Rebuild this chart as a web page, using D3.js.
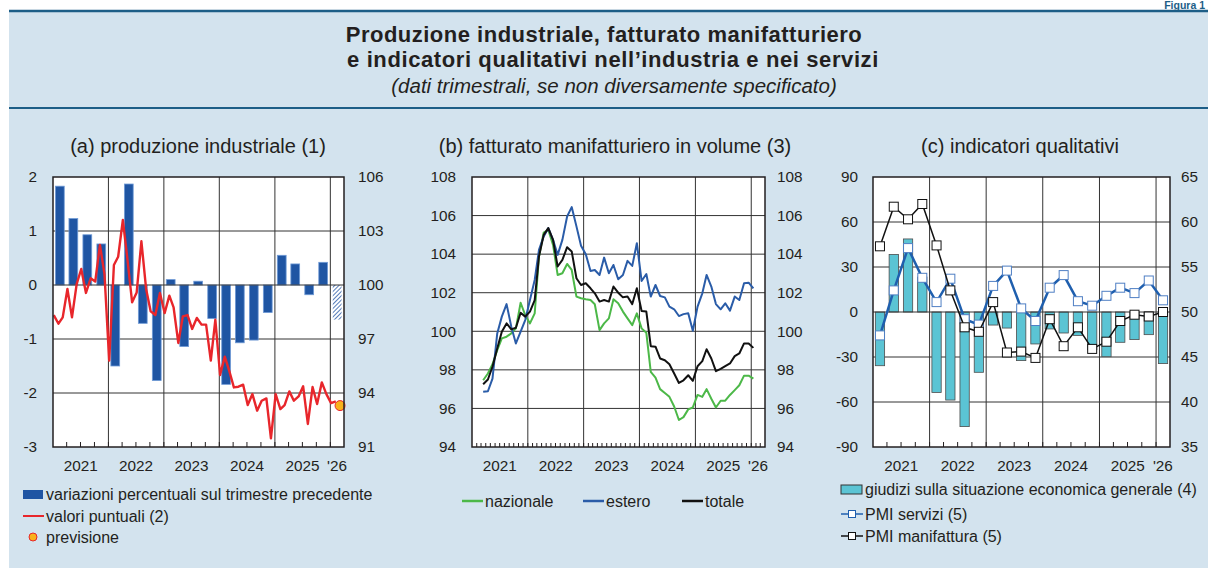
<!DOCTYPE html>
<html><head><meta charset="utf-8">
<script src="https://cdn.jsdelivr.net/npm/d3@7"></script>
<style>
body{margin:0;background:#fff}
svg{display:block}
text{font-family:"Liberation Sans",Arial,Helvetica,sans-serif;fill:#231f20}
</style>
</head><body>
<svg id="chart" width="1208" height="568"></svg>
<script>
// ---------------- DATA ----------------
const yearLabels = ["2021", "2022", "2023", "2024", "2025", "'26"];

// (a) produzione industriale: quarterly % change (last one = forecast, hatched)
const prodQoq = [1.83, 1.23, 0.93, 0.76, -1.50, 1.87, -0.71, -1.77, 0.10, -1.14, 0.07, -0.62,
  -1.84, -1.07, -1.02, -0.51, 0.55, 0.39, -0.18, 0.42, -0.64];
// monthly index level (right axis), from Jan 2021
const prodLevel = [98.33, 97.85, 98.20, 99.78, 98.20, 100.06, 100.89, 99.56, 100.37, 100.19, 102.22, 100.61,
  95.80, 101.11, 101.57, 103.61, 101.44, 99.04, 99.59, 102.43, 99.78, 98.54, 98.33, 99.56,
  98.44, 99.41, 98.76, 96.78, 98.26, 98.33, 97.56, 98.17, 97.80, 97.80, 95.80, 98.07,
  95.00, 96.02, 95.24, 94.31, 94.35, 94.46, 93.33, 93.94, 93.02, 93.57, 93.70, 91.48,
  93.94, 93.11, 93.33, 94.09, 93.57, 93.81, 94.37, 92.28, 94.33, 93.39, 94.59, 93.94,
  93.44, 93.54];
const prodForecast = 93.30;
const prodLeftTicks = [-3, -2, -1, 0, 1, 2];
const prodRightTicks = [91, 94, 97, 100, 103, 106];

// (b) fatturato manifatturiero in volume: monthly, from Mar 2021
const fattNazionale = [97.46, 97.81, 98.29, 99.02, 99.63, 99.72, 99.89, 100.15, 101.48, 100.84, 100.41, 100.93,
  103.88, 105.12, 105.26, 104.48, 102.92, 103.01, 103.49, 103.18, 101.80, 101.71, 101.66, 101.62,
  101.40, 100.06, 100.41, 100.67, 101.66, 101.45, 101.02, 100.67, 100.32, 100.93, 100.15, 99.92,
  97.90, 97.60, 97.00, 96.80, 96.60, 96.10, 95.40, 95.55, 95.95, 96.05, 96.70, 96.60,
  97.00, 96.50, 96.05, 96.40, 96.40, 96.70, 96.95, 97.20, 97.70, 97.70, 97.55];
const fattEstero = [96.86, 96.89, 97.55, 99.89, 100.76, 101.41, 100.24, 99.37, 99.98, 100.58, 101.62, 102.66,
  104.22, 104.92, 105.35, 104.74, 103.96, 104.74, 105.95, 106.44, 105.44, 104.43, 104.00, 103.13,
  103.18, 102.92, 103.82, 103.01, 103.44, 102.70, 102.92, 103.65, 103.39, 104.57, 102.61, 102.97,
  101.80, 102.40, 101.83, 101.76, 101.28, 101.14, 100.79, 100.89, 100.93, 100.03, 101.28, 101.97,
  102.92, 102.32, 101.41, 101.14, 101.45, 101.07, 101.80, 101.62, 102.49, 102.52, 102.23];
const fattTotale = [97.25, 97.50, 98.16, 99.11, 99.98, 100.41, 100.10, 100.18, 100.96, 100.76, 101.02, 101.62,
  103.88, 105.00, 105.35, 104.74, 103.36, 103.70, 104.36, 104.14, 102.75, 102.40, 102.49, 102.23,
  101.97, 101.54, 101.62, 101.54, 102.32, 102.00, 101.76, 101.80, 101.41, 102.23, 101.05, 101.02,
  99.23, 99.20, 98.59, 98.50, 98.29, 97.81, 97.32, 97.46, 97.72, 97.43, 98.19, 98.45,
  99.07, 98.59, 97.93, 98.05, 98.19, 98.33, 98.71, 98.85, 99.37, 99.37, 99.14];
const fattTicks = [94, 96, 98, 100, 102, 104, 106, 108];

// (c) indicatori qualitativi: quarterly
const giudizi = [-35.8, 38.4, 48.7, 23.3, -53.6, -58.7, -76.4, -40.2, -8.7, -10.7, -32.4, -21.3,
  -11.3, -14.0, -15.6, -25.1, -29.8, -20.2, -18.4, -15.1, -34.4];
const pmiServizi = [47.4, 52.4, 57.1, 53.8, 51.1, 53.7, 49.2, 48.6, 52.9, 54.6, 50.4, 49.0,
  52.7, 54.1, 51.2, 50.7, 51.8, 52.7, 52.1, 53.5, 51.3];
const pmiManifattura = [57.3, 61.7, 60.3, 62.0, 57.4, 52.4, 48.3, 47.8, 51.1, 45.5, 45.6, 44.9,
  49.2, 46.2, 48.3, 45.9, 46.7, 49.0, 49.7, 49.5, 50.0];
const qualLeftTicks = [-90, -60, -30, 0, 30, 60, 90];
const qualRightTicks = [35, 40, 45, 50, 55, 60, 65];

// ---------------- DRAW ----------------
const svg = d3.select("#chart");
const BG = "#d3e3ee", RULE = "#1d5e87";
const C_BAR_A = "#1f55a3", C_RED = "#e8262b", C_GREEN = "#4cb848", C_BLUE = "#2a5ca8", C_TEAL = "#5bc4d4";

svg.append("rect").attr("width", 1208).attr("height", 568).attr("fill", "#fff");
svg.append("rect").attr("x", 9).attr("y", 11).attr("width", 1199).attr("height", 557).attr("fill", BG);
svg.append("line").attr("x1", 9).attr("x2", 1208).attr("y1", 11).attr("y2", 11).attr("stroke", RULE).attr("stroke-width", 2.5);
svg.append("line").attr("x1", 9).attr("x2", 1208).attr("y1", 108).attr("y2", 108).attr("stroke", RULE).attr("stroke-width", 2);
svg.append("text").attr("x", 1205).attr("y", 9).attr("text-anchor", "end").attr("font-weight", "bold")
  .attr("font-size", 10.5).style("fill", RULE).text("Figura 1");

svg.append("text").attr("x", 604).attr("y", 42).attr("text-anchor", "middle").attr("font-weight", "bold")
  .attr("font-size", 22).attr("letter-spacing", 0.5).text("Produzione industriale, fatturato manifatturiero");
svg.append("text").attr("x", 613).attr("y", 67).attr("text-anchor", "middle").attr("font-weight", "bold")
  .attr("font-size", 22).attr("letter-spacing", 0.6).text("e indicatori qualitativi nell\u2019industria e nei servizi");
svg.append("text").attr("x", 614).attr("y", 93).attr("text-anchor", "middle").attr("font-style", "italic")
  .attr("font-size", 20.5).text("(dati trimestrali, se non diversamente specificato)");

const defs = svg.append("defs");
const pat = defs.append("pattern").attr("id", "hatch").attr("patternUnits", "userSpaceOnUse")
  .attr("width", 3).attr("height", 3).attr("patternTransform", "rotate(45)");
pat.append("rect").attr("width", 3).attr("height", 3).attr("fill", "#fff");
pat.append("line").attr("x1", 0).attr("x2", 0).attr("y1", 0).attr("y2", 3).attr("stroke", "#2a5ca8").attr("stroke-width", 1.6);

const D0 = new Date(2021, 0, 1), D1 = new Date(2026, 3, 1);
const Y0 = 177, Y1 = 447;
const TICK_FS = 15.3;

function panel(x0, x1, title, titleX) {
  const x = d3.scaleTime().domain([D0, D1]).range([x0, x1]);
  const g = svg.append("g");
  g.append("rect").attr("x", x0).attr("y", Y0).attr("width", x1 - x0).attr("height", Y1 - Y0).attr("fill", "#fff");
  svg.append("text").attr("x", titleX).attr("y", 153).attr("text-anchor", "middle").attr("font-size", 20).text(title);
  return {x, g};
}
function vgrid(p) {
  const years = d3.range(2022, 2027).map(y => new Date(y, 0, 1));
  p.g.selectAll(null).data(years).enter().append("line")
    .attr("x1", d => p.x(d)).attr("x2", d => p.x(d)).attr("y1", Y0).attr("y2", Y1)
    .attr("stroke", "#333").attr("stroke-width", 1);
}
function hgrid(p, y, vals) {
  p.g.selectAll(null).data(vals).enter().append("line")
    .attr("x1", p.x.range()[0]).attr("x2", p.x.range()[1]).attr("y1", d => y(d)).attr("y2", d => y(d))
    .attr("stroke", "#333").attr("stroke-width", 1);
}
function frame(p, interval, tlen) {
  const [x0, x1] = p.x.range();
  const ticks = interval.range(D0, D1).filter(d => +d > +D0);
  p.g.selectAll(null).data(ticks).enter().append("line")
    .attr("x1", d => p.x(d)).attr("x2", d => p.x(d)).attr("y1", Y1).attr("y2", Y1 - tlen)
    .attr("stroke", "#231f20").attr("stroke-width", 1);
  p.g.append("rect").attr("x", x0).attr("y", Y0).attr("width", x1 - x0).attr("height", Y1 - Y0)
    .attr("fill", "none").attr("stroke", "#231f20").attr("stroke-width", 1.5);
  const yl = yearLabels.map((t, i) => ({t, d: i < 5 ? new Date(2021 + i, 6, 2) : new Date(2026, 1, 14)}));
  svg.selectAll(null).data(yl).enter().append("text").attr("x", d => p.x(d.d)).attr("y", 471)
    .attr("text-anchor", "middle").attr("font-size", TICK_FS).text(d => d.t);
}
function yLabels(y, vals, xpos, anchor) {
  svg.selectAll(null).data(vals).enter().append("text")
    .attr("x", xpos).attr("y", d => y(d)).attr("dy", "0.35em").attr("text-anchor", anchor)
    .attr("font-size", TICK_FS).text(d => d);
}
const qCenter = i => new Date(2021, 3 * i + 1, 15);

// ---- Panel A ----
{
  const p = panel(53, 344, "(a) produzione industriale (1)", 198);
  const yL = d3.scaleLinear().domain([-3, 2]).range([Y1, Y0]);
  const yR = d3.scaleLinear().domain([91, 106]).range([Y1, Y0]);
  hgrid(p, yL, [-2, -1, 1]);
  vgrid(p);
  const bw = 8.8;
  p.g.selectAll(null).data(prodQoq).enter().append("rect")
    .attr("x", (d, i) => p.x(qCenter(i)) - bw / 2).attr("width", bw)
    .attr("y", d => yL(Math.max(0, d))).attr("height", d => Math.abs(yL(d) - yL(0)))
    .attr("fill", (d, i) => i === prodQoq.length - 1 ? "url(#hatch)" : C_BAR_A)
    .attr("stroke", (d, i) => i === prodQoq.length - 1 ? "none" : "#6f9ad6").attr("stroke-width", 0.8);
  hgrid(p, yL, [0]);
  const line = d3.line().x((d, i) => p.x(new Date(2021, i, 6))).y(d => yR(d));
  p.g.append("path").datum(prodLevel).attr("d", line).attr("fill", "none")
    .attr("stroke", C_RED).attr("stroke-width", 2.4).attr("stroke-linejoin", "round");
  p.g.append("circle").attr("cx", p.x(new Date(2021, prodLevel.length, 6))).attr("cy", yR(prodForecast))
    .attr("r", 5).attr("fill", "#f9b21b").attr("stroke", "#e8262b").attr("stroke-width", 1);
  frame(p, d3.timeMonth.every(3), 5);
  yLabels(yL, prodLeftTicks, 37, "end");
  yLabels(yR, prodRightTicks, 358, "start");
  // legend
  svg.append("rect").attr("x", 23).attr("y", 490).attr("width", 20).attr("height", 9).attr("fill", C_BAR_A);
  svg.append("text").attr("x", 46).attr("y", 500).attr("font-size", 16).text("variazioni percentuali sul trimestre precedente");
  svg.append("line").attr("x1", 23).attr("x2", 44).attr("y1", 516).attr("y2", 516).attr("stroke", C_RED).attr("stroke-width", 2);
  svg.append("text").attr("x", 46).attr("y", 521.5).attr("font-size", 16).text("valori puntuali (2)");
  svg.append("circle").attr("cx", 33).attr("cy", 537).attr("r", 4).attr("fill", "#f9b21b").attr("stroke", "#e8262b").attr("stroke-width", 1);
  svg.append("text").attr("x", 46).attr("y", 542.5).attr("font-size", 16).text("previsione");
}

// ---- Panel B ----
{
  const p = panel(472, 765, "(b) fatturato manifatturiero in volume (3)", 615);
  const y = d3.scaleLinear().domain([94, 108]).range([Y1, Y0]);
  hgrid(p, y, [96, 98, 100, 102, 104, 106]);
  vgrid(p);
  const line = d3.line().x((d, i) => p.x(new Date(2021, i + 2, 15))).y(d => y(d));
  [[fattNazionale, C_GREEN], [fattEstero, C_BLUE], [fattTotale, "#111"]].forEach(([data, c]) => {
    p.g.append("path").datum(data).attr("d", line).attr("fill", "none")
      .attr("stroke", c).attr("stroke-width", 2).attr("stroke-linejoin", "round");
  });
  frame(p, d3.timeMonth.every(1), 4);
  yLabels(y, fattTicks, 456, "end");
  yLabels(y, fattTicks, 777, "start");
  const leg = [["nazionale", C_GREEN, 462], ["estero", C_BLUE, 583], ["totale", "#111", 682]];
  leg.forEach(([t, c, lx]) => {
    svg.append("line").attr("x1", lx).attr("x2", lx + 21).attr("y1", 501).attr("y2", 501).attr("stroke", c).attr("stroke-width", 2.5);
    svg.append("text").attr("x", lx + 23).attr("y", 506.5).attr("font-size", 16).text(t);
  });
}

// ---- Panel C ----
{
  const p = panel(873, 1170, "(c) indicatori qualitativi", 1020);
  const yL = d3.scaleLinear().domain([-90, 90]).range([Y1, Y0]);
  const yR = d3.scaleLinear().domain([35, 65]).range([Y1, Y0]);
  hgrid(p, yL, [-60, -30, 30, 60]);
  vgrid(p);
  const bw = 9.3;
  p.g.selectAll(null).data(giudizi).enter().append("rect")
    .attr("x", (d, i) => p.x(qCenter(i)) - bw / 2).attr("width", bw)
    .attr("y", d => yL(Math.max(0, d))).attr("height", d => Math.abs(yL(d) - yL(0)))
    .attr("fill", C_TEAL).attr("stroke", "#4d4d4d").attr("stroke-width", 0.8);
  hgrid(p, yL, [0]);
  const line = d3.line().x((d, i) => p.x(qCenter(i))).y(d => yR(d));
  const ms = 9;
  [[pmiServizi, "#1f5fae", 2.5, "#4f7fc4"], [pmiManifattura, "#111", 1.5, "#111"]].forEach(([data, c, w, mc]) => {
    p.g.append("path").datum(data).attr("d", line).attr("fill", "none").attr("stroke", c).attr("stroke-width", w);
    p.g.selectAll(null).data(data).enter().append("rect")
      .attr("x", (d, i) => p.x(qCenter(i)) - ms / 2).attr("y", d => yR(d) - ms / 2)
      .attr("width", ms).attr("height", ms).attr("fill", "#fff").attr("stroke", mc).attr("stroke-width", 1);
  });
  frame(p, d3.timeMonth.every(3), 5);
  yLabels(yL, qualLeftTicks, 858, "end");
  yLabels(yR, qualRightTicks, 1181, "start");
  // legend
  svg.append("rect").attr("x", 841).attr("y", 485).attr("width", 21).attr("height", 9).attr("fill", C_TEAL).attr("stroke", "#333").attr("stroke-width", 1);
  svg.append("text").attr("x", 865).attr("y", 495).attr("font-size", 16).text("giudizi sulla situazione economica generale (4)");
  const items = [["PMI servizi (5)", "#1f5fae", 514], ["PMI manifattura (5)", "#111", 536]];
  items.forEach(([t, c, ly]) => {
    svg.append("line").attr("x1", 841).attr("x2", 863).attr("y1", ly).attr("y2", ly).attr("stroke", c).attr("stroke-width", 1.5);
    svg.append("rect").attr("x", 848.5).attr("y", ly - 3.5).attr("width", 7).attr("height", 7).attr("fill", "#fff").attr("stroke", c).attr("stroke-width", 1);
    svg.append("text").attr("x", 865).attr("y", ly + 5.5).attr("font-size", 16).text(t);
  });
}
</script>
</body></html>
